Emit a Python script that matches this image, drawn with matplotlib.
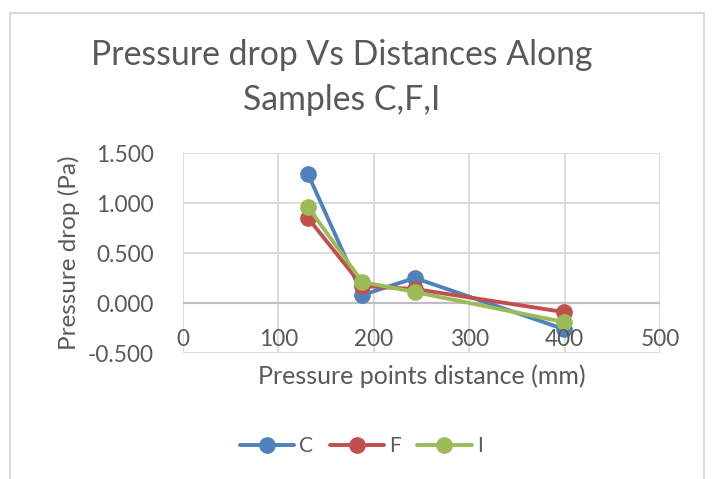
import matplotlib
matplotlib.use("Agg")
import matplotlib.pyplot as plt
from matplotlib.patches import Rectangle

plt.rcParams['font.family'] = ['Lato', 'DejaVu Sans']

x_vals = [131, 188, 243, 399]
series_names = ["C", "F", "I"]
C_vals = [1.29, 0.08, 0.25, -0.26]
F_vals = [0.85, 0.17, 0.14, -0.09]
I_vals = [0.96, 0.21, 0.11, -0.19]
colors = ["#4F81BD", "#C0504D", "#9BBB59"]
x_ticks = [0, 100, 200, 300, 400, 500]
y_ticks = [-0.5, 0.0, 0.5, 1.0, 1.5]

W, H = 712, 479
fig = plt.figure(figsize=(W/100, H/100), dpi=100)
# chart border
fig.patches.append(Rectangle((10/W, -0.01), (704-10)/W, (479-13)/H + 0.01, transform=fig.transFigure,
                             fill=False, edgecolor="#D9D9D9", linewidth=1.5))

ax = fig.add_axes([183/W, 1-353/H, (660-183)/W, (353-153)/H])
for name, vals, c in zip(series_names, [C_vals, F_vals, I_vals], colors):
    ax.plot(x_vals, vals, color=c, linewidth=2.8, marker='o', markersize=11, label=name,
            solid_capstyle='round')

ax.set_xlim(0, 500)
ax.set_ylim(-0.5, 1.5)
ax.set_xticks(x_ticks)
ax.set_yticks(y_ticks)
ax.set_yticklabels([f"{v:.3f}" for v in y_ticks])
ax.grid(True, color="#D9D9D9", linewidth=1.3)
ax.set_axisbelow(True)
for s in ax.spines.values():
    s.set_visible(False)
ax.axhline(0, color="#BFBFBF", linewidth=1.6, zorder=1)
ax.tick_params(axis='both', length=0, labelsize=16.3, colors="#595959")
ax.tick_params(axis='y', pad=21)
# x tick labels near the zero line
ax.set_xticklabels([])
for xv in x_ticks:
    ax.text(xv, -0.37, str(xv), ha='center', va='center', fontsize=16.3, color="#595959")

ax.set_xlabel("Pressure points distance (mm)", fontsize=18, color="#595959", labelpad=5)
ax.set_ylabel("Pressure drop (Pa)", fontsize=17.5, color="#595959", labelpad=6)

fig.text(342/W, 1-55/H, "Pressure drop Vs Distances Along", ha='center', va='center',
         fontsize=24.3, color="#595959")
fig.text(342/W, 1-100/H, "Samples C,F,I", ha='center', va='center',
         fontsize=24.3, color="#595959")

leg = fig.legend(loc='center', bbox_to_anchor=(361/W, 1-446/H), ncol=3, frameon=False,
                 fontsize=15, handlelength=2.6, columnspacing=0.8, handletextpad=0.25)
for t in leg.get_texts():
    t.set_color("#595959")

fig.savefig("out.png", dpi=100)
